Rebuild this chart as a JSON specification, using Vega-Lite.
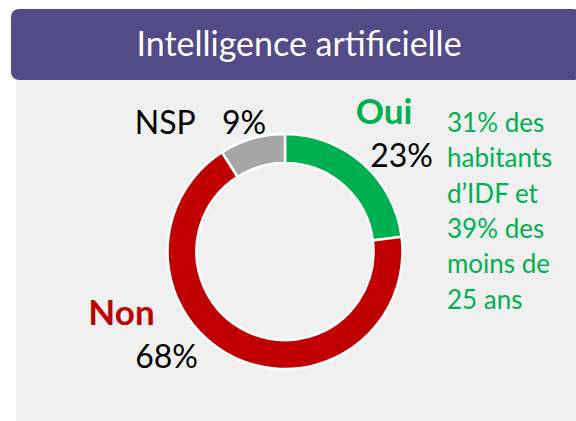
{
  "$schema": "https://vega.github.io/schema/vega-lite/v6.json",
  "padding": {"left": 11, "top": 9, "right": 0, "bottom": 0},
  "background": "white",
  "config": {"view": {"stroke": null}, "font": "Lato"},
  "spacing": 0,
  "bounds": "flush",
  "vconcat": [
    {
      "width": 570,
      "height": 71,
      "view": {"fill": "#534A88", "stroke": null, "cornerRadius": 8},
      "data": {"values": [{"titre": "Intelligence artificielle"}]},
      "mark": {"type": "text", "color": "white", "fontSize": 34, "baseline": "alphabetic", "align": "center", "dx": 3, "dy": 11.5},
      "encoding": {"text": {"field": "titre", "type": "nominal"}}
    },
    {
      "spacing": 0,
      "bounds": "flush",
      "hconcat": [
        {
          "width": 5,
          "height": 343,
          "view": {"fill": null, "stroke": null},
          "data": {"values": [{"vide": ""}]},
          "mark": {"type": "text", "text": ""}
        },
        {
          "width": 538,
          "height": 343,
          "view": {"fill": "#F0F0F0", "stroke": null},
          "data": {"values": [
            {"reponse": "Oui", "part": 0.23, "ordre": 1, "note": "31% des\nhabitants\nd’IDF et\n39% des\nmoins de\n25 ans"},
            {"reponse": "Non", "part": 0.68, "ordre": 2, "note": ""},
            {"reponse": "NSP", "part": 0.09, "ordre": 3, "note": ""}
          ]},
          "encoding": {
            "theta": {"field": "part", "type": "quantitative", "stack": true},
            "order": {"field": "ordre", "type": "quantitative"},
            "detail": {"field": "reponse", "type": "nominal"}
          },
          "layer": [
            {
              "mark": {"type": "arc", "innerRadius": 88.5, "outerRadius": 117.5, "stroke": "white", "strokeWidth": 2.5},
              "encoding": {
                "color": {"field": "reponse", "type": "nominal", "legend": null,
                  "scale": {"domain": ["Oui", "Non", "NSP"], "range": ["#00B050", "#C00000", "#A6A6A6"]}}
              }
            },
            {
              "mark": {"type": "text", "radius": 161, "dx": -7.5, "dy": -6.7, "align": "center", "baseline": "alphabetic", "fontSize": 35, "fontWeight": "bold", "color": "#00B050"},
              "encoding": {"text": {"condition": {"test": "datum.reponse === 'Oui'", "field": "reponse", "type": "nominal"}, "value": ""}}
            },
            {
              "mark": {"type": "text", "radius": 140, "dx": 24, "dy": 20.5, "align": "center", "baseline": "alphabetic", "fontSize": 32, "color": "black"},
              "encoding": {"text": {"condition": {"test": "datum.reponse === 'Oui'", "field": "part", "type": "quantitative", "format": ".0%"}, "value": ""}}
            },
            {
              "mark": {"type": "text", "radius": 136, "dx": -105.6, "dy": -49.6, "align": "center", "baseline": "alphabetic", "fontSize": 35, "fontWeight": "bold", "color": "#C00000"},
              "encoding": {"text": {"condition": {"test": "datum.reponse === 'Non'", "field": "reponse", "type": "nominal"}, "value": ""}}
            },
            {
              "mark": {"type": "text", "radius": 156, "dx": -52, "dy": -24.6, "align": "center", "baseline": "alphabetic", "fontSize": 32, "color": "black"},
              "encoding": {"text": {"condition": {"test": "datum.reponse === 'Non'", "field": "part", "type": "quantitative", "format": ".0%"}, "value": ""}}
            },
            {
              "mark": {"type": "text", "radius": 146, "dx": -79, "dy": 23, "align": "center", "baseline": "alphabetic", "fontSize": 32, "color": "black"},
              "encoding": {"text": {"condition": {"test": "datum.reponse === 'NSP'", "field": "reponse", "type": "nominal"}, "value": ""}}
            },
            {
              "mark": {"type": "text", "radius": 124, "dx": -6.4, "dy": 1.6, "align": "center", "baseline": "alphabetic", "fontSize": 32, "color": "black"},
              "encoding": {"text": {"condition": {"test": "datum.reponse === 'NSP'", "field": "part", "type": "quantitative", "format": ".0%"}, "value": ""}}
            },
            {
              "mark": {"type": "text", "radius": 197, "dx": 31.7, "dy": 28.3, "align": "left", "baseline": "alphabetic", "fontSize": 26, "lineHeight": 35.3, "lineBreak": "\n", "color": "#00B050"},
              "encoding": {"text": {"field": "note", "type": "nominal"}}
            }
          ]
        },
        {
          "width": 22,
          "height": 343,
          "view": {"fill": "#F0F0F0", "stroke": null},
          "data": {"values": [{"vide": ""}]},
          "mark": {"type": "text", "text": ""}
        }
      ]
    }
  ]
}
